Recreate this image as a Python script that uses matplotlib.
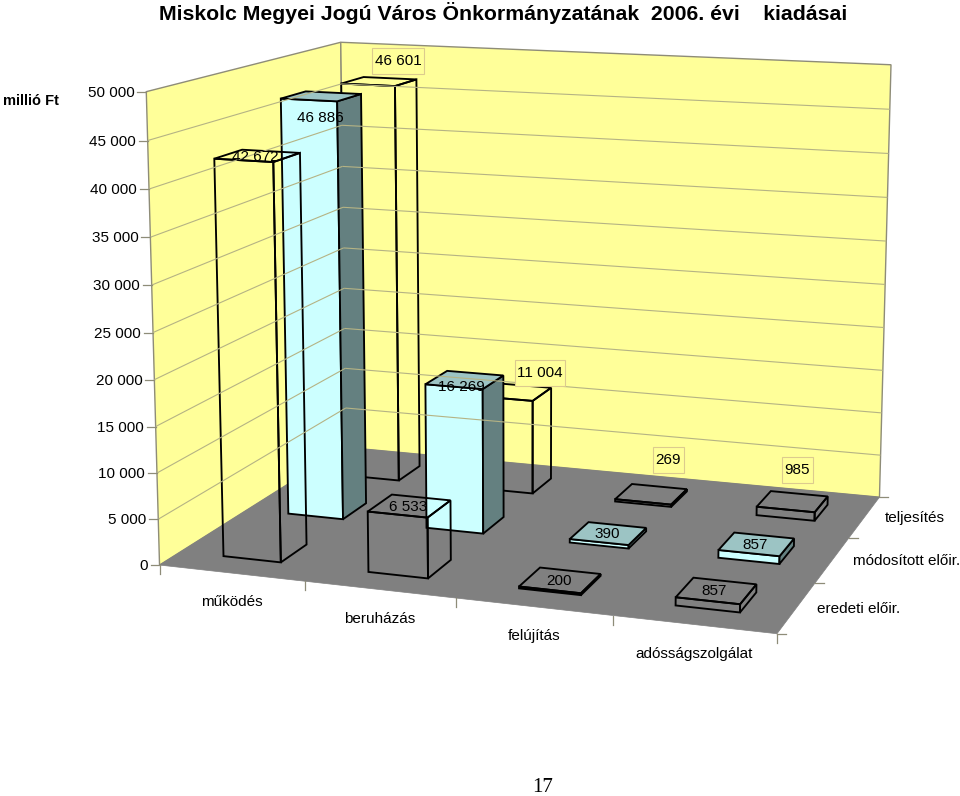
#____________________________________________________________________________________________________
# imports
import matplotlib
matplotlib.use("Agg")
import matplotlib.pyplot as plt
from matplotlib.patches import Polygon, Rectangle
import numpy as np

plt.rcParams['font.family'] = ['Liberation Sans', 'DejaVu Sans']

#____________________________________________________________________________________________________
# data
title = "Miskolc Megyei Jogú Város Önkormányzatának  2006. évi    kiadásai"
unit = "millió Ft"
categories = ["működés", "beruházás", "felújítás", "adósságszolgálat"]
series_names = ["eredeti előir.", "módosított előir.", "teljesítés"]
eredeti = [42672, 6533, 200, 857]
modositott = [46886, 16269, 390, 857]
teljesites = [46601, 11004, 269, 985]
yticks = [0, 5000, 10000, 15000, 20000, 25000, 30000, 35000, 40000, 45000, 50000]
page_number = "17"

# label shift from the centre of the bar top, pixels
eredeti_shift = [(-2, 1), (-1, 1), (-1, 1), (-2, 0)]
modositott_shift = [(-1, 22), (-3, 7), (-1, 1), (-1, 1)]
teljesites_shift = [(19, -21), (25, -19), (17, -34), (5, -32)]

# picture points of the 3d box, used to fit the camera
camera_points = [
    ((0, 0, 0), (160, 565)), ((1, 0, 0), (305, 581)), ((2, 0, 0), (456, 598)),
    ((3, 0, 0), (613, 616)), ((4, 0, 0), (777, 634)), ((4, 1, 0), (815, 583)),
    ((4, 2, 0), (850, 537)), ((4, 3, 0), (879, 497)), ((0, 3, 0), (346, 448)),
    ((0, 0, 1), (146, 92)), ((0, 0, 0.5), (153, 332)), ((0, 3, 1), (341, 42)),
    ((4, 3, 1), (891, 65)),
]
zmax = 50000.0

WALL = '#FFFF99'
FLOOR = '#808080'
GRID = '#B5B384'
EDGE = '#8E8C78'


#____________________________________________________________________________________________________
# set ups
def fit_camera():
    rows = []
    for (x, y, z), (u, v) in camera_points:
        rows.append([x, y, z, 1, 0, 0, 0, 0, -u*x, -u*y, -u*z, -u])
        rows.append([0, 0, 0, 0, x, y, z, 1, -v*x, -v*y, -v*z, -v])
    _, _, vt = np.linalg.svd(np.array(rows, dtype=float))
    return vt[-1].reshape(3, 4)


CAM = fit_camera()


def project(x, y, value):
    p = CAM @ np.array([x, y, value/zmax, 1.0])
    return p[0]/p[2], p[1]/p[2]


def quad(ax, corners, face, edge, lw):
    pts = [project(*c) for c in corners]
    ax.add_patch(Polygon(pts, closed=True, facecolor=face, edgecolor=edge, linewidth=lw, joinstyle='miter'))


def line3d(ax, a, b, color, lw=0.8):
    pa = project(*a)
    pb = project(*b)
    ax.plot([pa[0], pb[0]], [pa[1], pb[1]], color=color, lw=lw, solid_capstyle='butt')


def draw_bar(ax, cat, ser, value, front, top, side):
    x0, x1 = cat+0.3, cat+0.7
    y0, y1 = ser+0.3, ser+0.7
    lw = 1.35
    quad(ax, [(x0, y0, 0), (x1, y0, 0), (x1, y0, value), (x0, y0, value)], front, 'black', lw)
    quad(ax, [(x1, y0, 0), (x1, y1, 0), (x1, y1, value), (x1, y0, value)], side, 'black', lw)
    quad(ax, [(x0, y0, value), (x1, y0, value), (x1, y1, value), (x0, y1, value)], top, 'black', lw)


def main():
    fig = plt.figure(figsize=(9.6, 7.96), dpi=100)
    ax = fig.add_axes([0, 0, 1, 1])
    ax.set_xlim(0, 960)
    ax.set_ylim(796, 0)
    ax.axis('off')

    # walls and floor
    quad(ax, [(0, 0, 0), (0, 3, 0), (0, 3, zmax), (0, 0, zmax)], WALL, EDGE, 1.0)
    quad(ax, [(0, 3, 0), (4, 3, 0), (4, 3, zmax), (0, 3, zmax)], WALL, EDGE, 1.0)
    quad(ax, [(0, 0, 0), (4, 0, 0), (4, 3, 0), (0, 3, 0)], FLOOR, FLOOR, 0.5)

    for v in yticks[1:-1]:
        line3d(ax, (0, 0, v), (0, 3, v), GRID)
        line3d(ax, (0, 3, v), (4, 3, v), GRID)

    # value axis
    for v in yticks:
        px, py = project(0, 0, v)
        ax.plot([px-9, px], [py, py], color=EDGE, lw=0.9)
        ax.text(px-12, py+1, f"{v:,}".replace(",", " "), ha='right', va='center', fontsize=11, color='black')

    # category axis
    for i in range(len(categories)+1):
        px, py = project(i, 0, 0)
        ax.plot([px, px], [py, py+9], color=EDGE, lw=0.9)
    for i, name in enumerate(categories):
        px, py = project(i+0.5, 0, 0)
        ax.text(px, py+29, name, ha='center', va='center', fontsize=11)

    # series axis
    for i in range(len(series_names)+1):
        px, py = project(4, i, 0)
        ax.plot([px, px+9], [py, py], color=EDGE, lw=0.9)
    for i, name in enumerate(series_names):
        px, py = project(4, i+0.5, 0)
        ax.text(px+20, py+1, name, ha='left', va='center', fontsize=11)

    # bars, back row first so the front ones lie over them
    for c in range(len(categories)):
        draw_bar(ax, c, 2, teljesites[c], 'none', 'none', 'none')
    for c in range(len(categories)):
        draw_bar(ax, c, 1, modositott[c], '#CCFFFF', '#9CC4C4', '#648080')
    for c in range(len(categories)):
        draw_bar(ax, c, 0, eredeti[c], 'none', 'none', 'none')

    # data labels, the back row has a box round the text
    renderer = fig.canvas.get_renderer()
    for s, (vals, shift) in enumerate([(eredeti, eredeti_shift), (modositott, modositott_shift), (teljesites, teljesites_shift)]):
        for c, v in enumerate(vals):
            px, py = project(c+0.5, s+0.5, v)
            lx, ly = px+shift[c][0], py+shift[c][1]
            t = ax.text(lx, ly, f"{v:,}".replace(",", " "), ha='center', va='center', fontsize=11, zorder=6)
            if s == 2:
                w = t.get_window_extent(renderer).width + 5
                ax.add_patch(Rectangle((lx-w/2, ly-13), w, 26, facecolor=WALL, edgecolor='#DCCB8E', linewidth=0.8, zorder=5))

    fig.text(503/960, 1-13/796, title, ha='center', va='center', fontsize=15.3, fontweight='bold')
    ax.text(31, 101, unit, ha='center', va='center', fontsize=10.5, fontweight='bold')
    ax.text(543, 787, page_number, ha='center', va='center', fontsize=15, family='Liberation Serif')

    fig.savefig("out.png", dpi=100)


#____________________________________________________________________________________________________
# main
if __name__ == "__main__":
    main()
